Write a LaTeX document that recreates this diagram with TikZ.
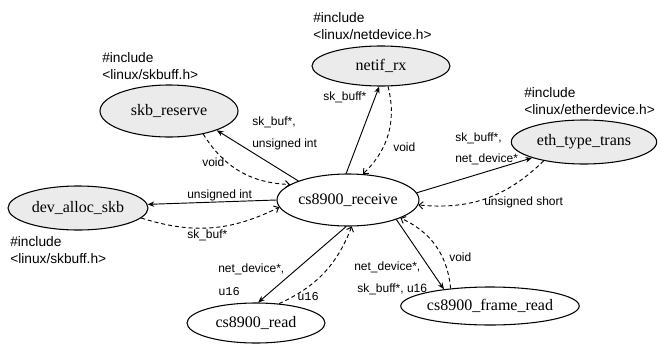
\documentclass[tikz,border=0pt]{standalone}
\usepackage{fontspec}
\setmainfont{Liberation Serif}
\newfontfamily\labfont{Liberation Sans}
\newfontfamily\codefont{Liberation Mono}
\usetikzlibrary{shapes.geometric,arrows.meta}

\begin{document}
\begin{tikzpicture}[x=0.75pt,y=-0.75pt,
  func/.style={ellipse, draw, line width=0.8pt, inner sep=0pt,
               font=\fontsize{12}{14}\selectfont},
  libfn/.style={func, fill=gray!16},
  call/.style={line width=0.7pt, -{Stealth[length=5pt,width=4pt]}},
  ret/.style={line width=0.7pt, dash pattern=on 3pt off 2.2pt,
              -{Straight Barb[length=3pt,width=5.5pt]}},
  lbl/.style={font=\labfont\fontsize{9}{10}\selectfont, anchor=west, inner sep=0pt},
  inc/.style={font=\labfont\fontsize{10.3}{12.75}\selectfont, anchor=west,
              align=left, inner sep=0pt}]
\useasboundingbox (0,0) rectangle (660,343);

% functions
\node[func,  minimum width=106.5pt, minimum height=39pt]   (recv)  at (348,200) {cs8900\_receive};
\node[libfn, minimum width=103.5pt, minimum height=39pt]   (skb)   at (169,111) {skb\_reserve};
\node[libfn, minimum width=103.5pt, minimum height=30pt]   (netif) at (381,66)  {netif\_rx};
\node[libfn, minimum width=109pt,   minimum height=33pt]   (eth)   at (584,142) {eth\_type\_trans};
\node[libfn, minimum width=105pt,   minimum height=33pt]   (dev)   at (78,208)  {dev\_alloc\_skb};
\node[func,  minimum width=103.5pt, minimum height=30pt]   (read)  at (256,323) {cs8900\_read};
\node[func,  minimum width=105pt,   minimum height=28.5pt] (frame) at (490,306) {cs8900\_frame\_read};

% header files
\node[inc] (hskb)   at (102,66.5) {\#include\\<linux/skbuff.h>};
\node[inc] (hnetif) at (313,26)   {\#include\\<linux/netdevice.h>};
\node[inc] (heth)   at (524,101.5){\#include\\<linux/etherdevice.h>};
\node[inc] (hdev)   at (10,250)   {\#include\\<linux/skbuff.h>};

% calls and returns
\draw[call] (recv.159) -- (skb.338);
\draw[ret]  (skb.326) to[bend right=28] (recv.165);

\draw[call] (recv.180) -- (dev.3);
\draw[ret]  (dev.-9) to[bend right=22] (recv.186);

\draw[call] (recv.94) -- (netif.265);
\draw[ret]  (netif.289) to[bend left=30] (recv.60);

\draw[call] (recv.6) -- (eth.197);
\draw[ret]  (eth.205) to[bend left=25] (recv.356);

\draw[call] (recv.266) -- (read.84);
\draw[ret]  (read.40) to[bend right=22] (recv.278);

\draw[call] (recv.338) -- (frame.160);
\draw[ret]  (frame.156) to[bend right=30] (recv.341);

% argument and return types
\node[lbl] (a1) at (252,122) {sk\_buf*,};
\node[lbl] (a2) at (252,144) {unsigned int};
\node[lbl] (r1) at (202,162) {void};
\node[lbl] (a3) at (323,97)  {sk\_buff*};
\node[lbl] (r2) at (393,147) {void};
\node[lbl] (a4) at (455,138) {sk\_buff*,};
\node[lbl] (a5) at (455,159) {net\_device*};
\node[lbl] (r3) at (484,202) {unsigned short};
\node[lbl] (a6) at (187,195) {unsigned int};
\node[lbl] (r4) at (187,235) {sk\_buf*};
\node[lbl] (a7) at (218,269) {net\_device*,};
\node[lbl] (a8) at (218,292) {\codefont u16};
\node[lbl] (r5) at (297,297) {\codefont u16};
\node[lbl] (r6) at (449,257) {void};
\node[lbl] (a9) at (354,267) {net\_device*,};
\node[lbl] (a10) at (357,289) {sk\_buff*, u16};
\end{tikzpicture}
\end{document}
